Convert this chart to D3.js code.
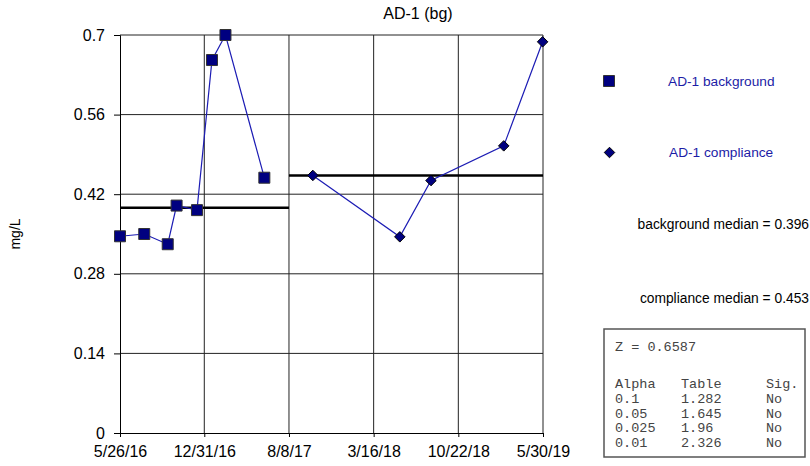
<!DOCTYPE html>
<html lang="en">
<head>
    <meta charset="UTF-8">
    <title>AD-1 (bg)</title>
    <script src="https://d3js.org/d3.v7.min.js"></script>
    <style>
        body { margin: 0; background: white; }
        text { font-family: Arial, "Liberation Sans", sans-serif; }
    </style>
</head>
<body>
<svg id="main" width="810" height="466"></svg>
<script>
    // data
    let bgDates = ["2016-05-26", "2016-07-28", "2016-09-27", "2016-10-20", "2016-12-12", "2017-01-20", "2017-02-24", "2017-06-05"];
    let bgValues = [0.346, 0.35, 0.332, 0.40, 0.392, 0.656, 0.70, 0.449];
    let compDates = ["2017-10-09", "2018-05-23", "2018-08-12", "2019-02-17", "2019-05-29"];
    let compValues = [0.453, 0.345, 0.444, 0.505, 0.688];
    let bgMedian = 0.396;
    let compMedian = 0.453;
    let xTickDates = ["2016-05-26", "2016-12-31", "2017-08-08", "2018-03-16", "2018-10-22", "2019-05-30"];
    let xTickLabels = ["5/26/16", "12/31/16", "8/8/17", "3/16/18", "10/22/18", "5/30/19"];
    let yTicks = [0, 0.14, 0.28, 0.42, 0.56, 0.7];
    let zValue = "Z = 0.6587";
    let alphas = ["0.1", "0.05", "0.025", "0.01"];
    let tableVals = ["1.282", "1.645", "1.96", "2.326"];
    let sigVals = ["No", "No", "No", "No"];

    let svg = d3.select('svg#main');
    let parse = d3.timeParse("%Y-%m-%d");
    let plot = {left: 120, right: 543, top: 35, bottom: 433};
    let sans = 'Arial, "Liberation Sans", sans-serif';

    let xScale = d3.scaleTime()
        .domain([parse(xTickDates[0]), parse(xTickDates[xTickDates.length - 1])])
        .range([plot.left, plot.right]);
    let yScale = d3.scaleLinear().domain([0, 0.7]).range([plot.bottom, plot.top]);

    let navy = "#000080", lineBlue = "#1c1cb4";

    // gridlines
    svg.append('g').selectAll('line.h')
        .data(yTicks.slice(1))
        .join('line')
        .attr('x1', plot.left).attr('x2', plot.right)
        .attr('y1', d => yScale(d)).attr('y2', d => yScale(d))
        .style('stroke', '#222').style('stroke-width', 1);
    svg.append('g').selectAll('line.v')
        .data(xTickDates.slice(1))
        .join('line')
        .attr('x1', d => xScale(parse(d))).attr('x2', d => xScale(parse(d)))
        .attr('y1', plot.top).attr('y2', plot.bottom)
        .style('stroke', '#222').style('stroke-width', 1);

    // axes
    let yAxis = svg.append('g')
        .attr('transform', 'translate(' + plot.left + ',0)')
        .call(d3.axisLeft(yScale).tickValues(yTicks).tickFormat(d => d3.format("~g")(d)).tickSize(6).tickPadding(9));
    let xAxis = svg.append('g')
        .attr('transform', 'translate(0,' + plot.bottom + ')')
        .call(d3.axisBottom(xScale).tickValues(xTickDates.map(parse))
            .tickFormat((d, i) => xTickLabels[i]).tickSize(4).tickPadding(9));
    svg.selectAll('.domain').style('stroke', '#000');
    svg.selectAll('.tick line').style('stroke', '#000');
    yAxis.selectAll('text').style('font-size', '16px').style('fill', '#000').attr('font-family', sans);
    xAxis.selectAll('text').style('font-size', '16px').style('fill', '#000').attr('font-family', sans);

    // median lines
    svg.append('line')
        .attr('x1', xScale(parse(xTickDates[0]))).attr('x2', xScale(parse(xTickDates[2])))
        .attr('y1', yScale(bgMedian)).attr('y2', yScale(bgMedian))
        .style('stroke', '#000').style('stroke-width', 2.5);
    svg.append('line')
        .attr('x1', xScale(parse(xTickDates[2]))).attr('x2', xScale(parse(xTickDates[5])))
        .attr('y1', yScale(compMedian)).attr('y2', yScale(compMedian))
        .style('stroke', '#000').style('stroke-width', 2.5);

    let bgData = bgDates.map((d, i) => ({date: parse(d), value: bgValues[i]}));
    let compData = compDates.map((d, i) => ({date: parse(d), value: compValues[i]}));
    let line = d3.line().x(d => xScale(d.date)).y(d => yScale(d.value));

    svg.append('path').datum(bgData).attr('d', line)
        .style('fill', 'none').style('stroke', lineBlue).style('stroke-width', 1.2);
    svg.append('path').datum(compData).attr('d', line)
        .style('fill', 'none').style('stroke', lineBlue).style('stroke-width', 1.2);

    let square = d3.symbol().type(d3.symbolSquare).size(121);
    let diamond = d3.symbol().type(d3.symbolDiamond2).size(70);

    svg.append('g').selectAll('path')
        .data(bgData)
        .join('path')
        .attr('d', square)
        .attr('transform', d => 'translate(' + xScale(d.date) + ',' + yScale(d.value) + ')')
        .style('fill', navy).style('stroke', '#333').style('stroke-width', 1);
    svg.append('g').selectAll('path')
        .data(compData)
        .join('path')
        .attr('d', diamond)
        .attr('transform', d => 'translate(' + xScale(d.date) + ',' + yScale(d.value) + ')')
        .style('fill', navy).style('stroke', '#000').style('stroke-width', 1);

    // title and axis label
    svg.append('text').attr('x', 418).attr('y', 19).attr('text-anchor', 'middle')
        .style('font-size', '16px').text('AD-1 (bg)');
    svg.append('text').attr('transform', 'translate(20,234) rotate(-90)').attr('text-anchor', 'middle')
        .style('font-size', '14px').text('mg/L');

    // legend
    svg.append('path').attr('d', square).attr('transform', 'translate(609,81)')
        .style('fill', navy).style('stroke', '#333');
    svg.append('text').attr('x', 668).attr('y', 85.5).style('font-size', '13.7px').style('fill', '#1c1ca6')
        .text('AD-1 background');
    svg.append('path').attr('d', diamond).attr('transform', 'translate(609.5,152.5)')
        .style('fill', navy).style('stroke', '#000');
    svg.append('text').attr('x', 669).attr('y', 156.5).style('font-size', '13.7px').style('fill', '#1c1ca6')
        .text('AD-1 compliance');

    svg.append('text').attr('x', 809).attr('y', 229).attr('text-anchor', 'end').style('font-size', '13.8px')
        .text('background median = ' + bgMedian);
    svg.append('text').attr('x', 809).attr('y', 303).attr('text-anchor', 'end').style('font-size', '13.8px')
        .text('compliance median = ' + compMedian);

    // stats box
    svg.append('rect').attr('x', 604).attr('y', 329).attr('width', 201).attr('height', 128)
        .style('fill', 'white').style('stroke', '#555').style('stroke-width', 1.5);
    let mono = '"Liberation Mono", "Courier New", monospace';
    let box = svg.append('g').style('font-family', mono).style('font-size', '13.5px').style('fill', '#444');
    box.append('text').attr('x', 615).attr('y', 351).style('font-family', mono).text(zValue);
    let rows = [["Alpha", "Table", "Sig."]].concat(alphas.map((a, i) => [a, tableVals[i], sigVals[i]]));
    let colX = [615, 681, 766];
    rows.forEach(function (r, i) {
        r.forEach(function (c, j) {
            box.append('text').attr('x', colX[j]).attr('y', 388 + i * 14.8)
                .style('font-family', mono).text(c);
        });
    });
</script>
</body>
</html>
